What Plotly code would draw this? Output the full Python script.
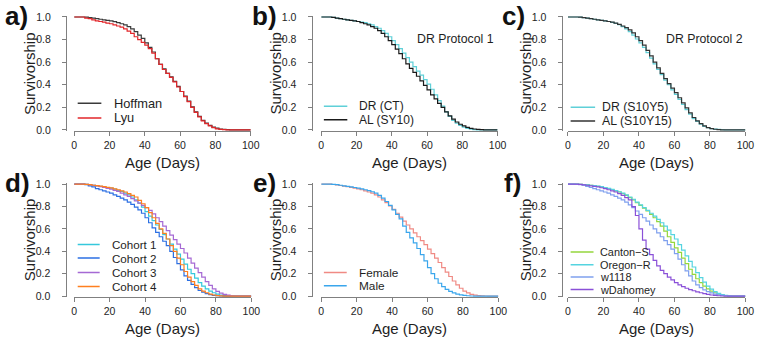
import plotly.graph_objects as go

# ---------------- data (survival proportion at each age, days) ----------------
DAYS = [0, 2, 4, 6, 8, 10, 12, 14, 16, 18, 20, 22, 24, 26, 28, 30, 32, 34, 36, 38,
        40, 42, 44, 46, 48, 50, 52, 54, 56, 58, 60, 62, 64, 66, 68, 70, 72, 74, 76, 78,
        80, 82, 84, 86, 88, 90, 92, 94, 96, 98, 100]
X_TICKS = [0, 20, 40, 60, 80, 100]
Y_TICKS = [0.0, 0.2, 0.4, 0.6, 0.8, 1.0]

# panel a
HOFFMAN = [1.0, 1.0, 1.0, 0.998, 0.995, 0.99, 0.985, 0.98, 0.975, 0.97, 0.965, 0.958, 0.95, 0.94, 0.93,
           0.915, 0.895, 0.87, 0.84, 0.81, 0.77, 0.73, 0.69, 0.63, 0.58, 0.54, 0.50, 0.47, 0.43, 0.385,
           0.34, 0.30, 0.255, 0.205, 0.16, 0.12, 0.085, 0.06, 0.04, 0.025, 0.015, 0.008, 0.004, 0.002,
           0.001, 0, 0, 0, 0, 0, 0]
LYU = [1.0, 1.0, 1.0, 0.99, 0.985, 0.975, 0.965, 0.96, 0.955, 0.945, 0.94, 0.93, 0.92, 0.91, 0.895,
       0.875, 0.855, 0.825, 0.80, 0.775, 0.75, 0.72, 0.68, 0.63, 0.58, 0.535, 0.50, 0.465, 0.425, 0.38,
       0.34, 0.295, 0.25, 0.20, 0.155, 0.115, 0.08, 0.055, 0.035, 0.02, 0.01, 0.005, 0.003, 0.001,
       0, 0, 0, 0, 0, 0, 0]
# panel b
DR_CT = [1.0, 1.0, 1.0, 0.997, 0.99, 0.985, 0.98, 0.975, 0.97, 0.965, 0.96, 0.955, 0.95, 0.94, 0.93,
         0.915, 0.90, 0.88, 0.855, 0.825, 0.79, 0.755, 0.72, 0.68, 0.64, 0.60, 0.56, 0.52, 0.485, 0.445,
         0.405, 0.36, 0.31, 0.26, 0.21, 0.16, 0.12, 0.085, 0.06, 0.04, 0.025, 0.014, 0.007, 0.003,
         0.001, 0, 0, 0, 0, 0, 0]
AL_SY10 = [1.0, 1.0, 1.0, 0.997, 0.99, 0.985, 0.98, 0.975, 0.97, 0.965, 0.96, 0.95, 0.94, 0.93, 0.915,
           0.90, 0.88, 0.855, 0.825, 0.79, 0.755, 0.715, 0.675, 0.63, 0.585, 0.545, 0.51, 0.475, 0.435,
           0.395, 0.355, 0.31, 0.275, 0.235, 0.20, 0.16, 0.125, 0.095, 0.07, 0.05, 0.035, 0.023, 0.014,
           0.008, 0.004, 0.002, 0, 0, 0, 0, 0]
# panel c
DR_S10Y5 = [1.0, 1.0, 1.0, 0.998, 0.995, 0.99, 0.985, 0.98, 0.975, 0.97, 0.965, 0.96, 0.953, 0.943,
            0.932, 0.915, 0.895, 0.87, 0.84, 0.805, 0.77, 0.73, 0.685, 0.635, 0.585, 0.535, 0.49, 0.44,
            0.40, 0.355, 0.315, 0.27, 0.225, 0.18, 0.14, 0.10, 0.075, 0.05, 0.032, 0.02, 0.012, 0.007,
            0.004, 0.002, 0.001, 0, 0, 0, 0, 0, 0]
AL_S10Y15 = [1.0, 1.0, 1.0, 0.998, 0.995, 0.99, 0.985, 0.98, 0.975, 0.97, 0.965, 0.96, 0.955, 0.945,
             0.935, 0.92, 0.905, 0.885, 0.86, 0.825, 0.79, 0.75, 0.705, 0.655, 0.60, 0.55, 0.50, 0.455,
             0.41, 0.37, 0.33, 0.285, 0.24, 0.195, 0.15, 0.11, 0.08, 0.055, 0.035, 0.02, 0.012, 0.006,
             0.003, 0.001, 0, 0, 0, 0, 0, 0, 0]
# panel d
COHORT1 = [1.0, 1.0, 1.0, 0.998, 0.995, 0.99, 0.985, 0.98, 0.975, 0.97, 0.965, 0.955, 0.945, 0.935,
           0.92, 0.905, 0.885, 0.86, 0.83, 0.795, 0.755, 0.715, 0.675, 0.635, 0.595, 0.55, 0.51, 0.465,
           0.42, 0.375, 0.33, 0.285, 0.24, 0.20, 0.16, 0.12, 0.09, 0.065, 0.045, 0.03, 0.018, 0.01,
           0.005, 0.002, 0, 0, 0, 0, 0, 0, 0]
COHORT2 = [1.0, 1.0, 1.0, 0.995, 0.985, 0.975, 0.96, 0.95, 0.94, 0.93, 0.92, 0.905, 0.89, 0.875, 0.86,
           0.84, 0.82, 0.795, 0.77, 0.74, 0.70, 0.655, 0.61, 0.57, 0.53, 0.49, 0.45, 0.40, 0.345, 0.29,
           0.235, 0.18, 0.14, 0.105, 0.075, 0.05, 0.035, 0.022, 0.013, 0.007, 0.003, 0.001, 0, 0, 0,
           0, 0, 0, 0, 0, 0]
COHORT3 = [1.0, 1.0, 1.0, 0.998, 0.995, 0.99, 0.985, 0.978, 0.97, 0.962, 0.955, 0.945, 0.935, 0.92,
           0.905, 0.89, 0.87, 0.85, 0.83, 0.81, 0.79, 0.765, 0.735, 0.70, 0.665, 0.625, 0.585, 0.545,
           0.505, 0.465, 0.425, 0.385, 0.34, 0.295, 0.25, 0.21, 0.17, 0.13, 0.095, 0.065, 0.042, 0.027,
           0.016, 0.008, 0.003, 0.001, 0, 0, 0, 0, 0]
COHORT4 = [1.0, 1.0, 1.0, 0.998, 0.995, 0.99, 0.987, 0.983, 0.978, 0.972, 0.966, 0.958, 0.95, 0.94,
           0.93, 0.915, 0.90, 0.885, 0.855, 0.825, 0.79, 0.745, 0.70, 0.65, 0.60, 0.56, 0.51, 0.45,
           0.40, 0.34, 0.28, 0.22, 0.17, 0.13, 0.095, 0.065, 0.045, 0.03, 0.018, 0.01, 0.005, 0.002,
           0, 0, 0, 0, 0, 0, 0, 0, 0]
# panel e
FEMALE = [1.0, 1.0, 1.0, 0.997, 0.993, 0.988, 0.983, 0.978, 0.972, 0.965, 0.958, 0.95, 0.94, 0.93,
          0.92, 0.905, 0.885, 0.86, 0.835, 0.805, 0.775, 0.74, 0.705, 0.67, 0.635, 0.60, 0.565, 0.53,
          0.495, 0.46, 0.42, 0.38, 0.34, 0.30, 0.255, 0.215, 0.175, 0.135, 0.10, 0.07, 0.045, 0.028,
          0.015, 0.008, 0.004, 0.002, 0.001, 0, 0, 0, 0]
MALE = [1.0, 1.0, 1.0, 0.998, 0.995, 0.99, 0.985, 0.98, 0.975, 0.97, 0.965, 0.958, 0.95, 0.942, 0.932,
        0.92, 0.90, 0.875, 0.845, 0.81, 0.77, 0.73, 0.69, 0.625, 0.57, 0.52, 0.475, 0.425, 0.37, 0.315,
        0.255, 0.20, 0.155, 0.115, 0.085, 0.06, 0.042, 0.028, 0.018, 0.011, 0.006, 0.003, 0.001, 0,
        0, 0, 0, 0, 0, 0, 0]
# panel f
CANTON_S = [1.0, 1.0, 1.0, 0.998, 0.996, 0.993, 0.99, 0.985, 0.98, 0.975, 0.968, 0.96, 0.95, 0.94,
            0.93, 0.915, 0.90, 0.88, 0.86, 0.835, 0.81, 0.785, 0.76, 0.73, 0.70, 0.665, 0.625, 0.58,
            0.53, 0.48, 0.43, 0.39, 0.34, 0.29, 0.24, 0.195, 0.155, 0.12, 0.09, 0.065, 0.045, 0.03,
            0.018, 0.01, 0.004, 0.001, 0, 0, 0, 0, 0]
OREGON_R = [1.0, 1.0, 1.0, 0.998, 0.996, 0.993, 0.99, 0.986, 0.982, 0.977, 0.97, 0.962, 0.953, 0.943,
            0.932, 0.92, 0.905, 0.885, 0.865, 0.84, 0.815, 0.79, 0.765, 0.74, 0.715, 0.685, 0.655,
            0.625, 0.59, 0.55, 0.51, 0.46, 0.41, 0.36, 0.31, 0.26, 0.21, 0.165, 0.125, 0.09, 0.062,
            0.04, 0.024, 0.013, 0.006, 0.002, 0, 0, 0, 0, 0]
W1118 = [1.0, 1.0, 0.998, 0.995, 0.99, 0.98, 0.97, 0.96, 0.95, 0.94, 0.93, 0.92, 0.905, 0.89, 0.875,
         0.86, 0.84, 0.815, 0.79, 0.76, 0.73, 0.70, 0.67, 0.635, 0.60, 0.565, 0.53, 0.495, 0.46, 0.42,
         0.38, 0.33, 0.28, 0.225, 0.18, 0.135, 0.10, 0.075, 0.055, 0.04, 0.028, 0.018, 0.011, 0.006,
         0.003, 0, 0, 0, 0, 0, 0]
WDAHOMEY = [1.0, 1.0, 1.0, 0.998, 0.994, 0.99, 0.985, 0.98, 0.975, 0.968, 0.96, 0.95, 0.94, 0.93,
            0.915, 0.90, 0.88, 0.86, 0.80, 0.72, 0.60, 0.50, 0.42, 0.37, 0.32, 0.27, 0.23, 0.20, 0.17,
            0.145, 0.12, 0.10, 0.085, 0.07, 0.058, 0.048, 0.038, 0.03, 0.022, 0.015, 0.01, 0.006, 0.003,
            0.001, 0, 0, 0, 0, 0, 0, 0]

# ---------------- layout helpers ----------------
W, H = 763, 341
FONT = "Liberation Sans, Arial, Helvetica, sans-serif"
AXIS_GREY = "#808080"
TEXT = "#1e1e1e"
PAD = 0.012  # y-range padding


def px_x(p):
    return p / W


def px_y(p):
    return 1 - p / H


panels = [
    dict(label="a)", lx=0, ly=-6, xpix=(72.3, 251.7), ypix=(12.3, 128.3), yline=64,
         series=[("Hoffman", HOFFMAN, "#3a3a3a"), ("Lyu", LYU, "#e2262a")],
         leg=dict(x0=2, x1=15.4, tx=21.5, ys=[0.235, 0.106], fs=12.8), note=None),
    dict(label="b)", lx=251, ly=-6, xpix=(323.3, 502.5), ypix=(12.3, 128.3), yline=313.5,
         series=[("DR (CT)", DR_CT, "#5fd0d8"), ("AL (SY10)", AL_SY10, "#1a1a1a")],
         leg=dict(x0=1.5, x1=14.8, tx=20.2, ys=[0.21, 0.09], fs=12), note=("DR Protocol 1", 76, 0.806)),
    dict(label="c)", lx=505, ly=-6, xpix=(574, 754.3), ypix=(12.3, 128.3), yline=567.5,
         series=[("DR (S10Y5)", DR_S10Y5, "#5fd0d8"), ("AL (S10Y15)", AL_S10Y15, "#333333")],
         leg=dict(x0=1.5, x1=15.3, tx=18.0, ys=[0.2, 0.08], fs=12.3), note=("DR Protocol 2", 76.7, 0.806)),
    dict(label="d)", lx=0, ly=165.5, xpix=(72.3, 252.3), ypix=(184, 299), yline=63.5,
         series=[("Cohort 1", COHORT1, "#35c8dc"), ("Cohort 2", COHORT2, "#2b6fe3"),
                 ("Cohort 3", COHORT3, "#a569d4"), ("Cohort 4", COHORT4, "#ff7f1f")],
         leg=dict(x0=2, x1=14.4, tx=20.3, ys=[0.46, 0.34, 0.21, 0.085], fs=11.6), note=None),
    dict(label="e)", lx=252, ly=165.5, xpix=(323.3, 503.3), ypix=(184, 299), yline=313.5,
         series=[("Female", FEMALE, "#f08a84"), ("Male", MALE, "#3aa6ec")],
         leg=dict(x0=1.5, x1=14.4, tx=20.2, ys=[0.21, 0.093], fs=11.8), note=None),
    dict(label="f)", lx=507, ly=165.5, xpix=(574, 754.3), ypix=(184, 299), yline=567.5,
         series=[("Canton\u2212S", CANTON_S, "#94d63c"), ("Oregon\u2212R", OREGON_R, "#55d4e0"),
                 ("w1118", W1118, "#7fa0ee"), ("wDahomey", WDAHOMEY, "#8a50d8")],
         leg=dict(x0=1.5, x1=14.4, tx=16.8, ys=[0.395, 0.28, 0.17, 0.058], fs=10.9), note=None),
]

fig = go.Figure()
annotations = []
shapes = []
layout = dict(
    width=W, height=H, margin=dict(l=0, r=0, t=0, b=0),
    paper_bgcolor="white", plot_bgcolor="white", showlegend=False,
    font=dict(family=FONT, color=TEXT),
)

for i, p in enumerate(panels, start=1):
    sfx = "" if i == 1 else str(i)
    xa, ya = "x" + sfx, "y" + sfx
    scale = (p["ypix"][1] - p["ypix"][0])
    top = p["ypix"][0] - PAD * scale
    bot = p["ypix"][1] + PAD * scale
    layout["xaxis" + sfx] = dict(
        domain=[px_x(p["xpix"][0]), px_x(p["xpix"][1])], range=[0, 100], anchor=ya,
        tickvals=X_TICKS, ticks="outside", ticklen=4, tickcolor=AXIS_GREY, tickwidth=1,
        showline=True, linecolor=AXIS_GREY, linewidth=1, showgrid=False, zeroline=False,
        tickfont=dict(size=10.5, color=TEXT), fixedrange=True,
    )
    layout["yaxis" + sfx] = dict(
        domain=[px_y(bot), px_y(top)], range=[-PAD, 1 + PAD], anchor="free",
        position=px_x(p["yline"]),
        tickvals=Y_TICKS, tickformat=".1f", ticks="outside", ticklen=4, tickcolor=AXIS_GREY,
        tickwidth=1, showline=True, linecolor=AXIS_GREY, linewidth=1, showgrid=False,
        zeroline=False, tickfont=dict(size=10.5, color=TEXT), ticklabelstandoff=9,
        fixedrange=True,
    )
    for name, vals, color in p["series"]:
        assert len(vals) == len(DAYS), name
        fig.add_trace(go.Scatter(x=DAYS, y=vals, mode="lines", line_shape="hv",
                                 line=dict(color=color, width=1.2), name=name,
                                 xaxis=xa, yaxis=ya, hoverinfo="skip"))
    # legend
    lg = p["leg"]
    for (name, vals, color), yy in zip(p["series"], lg["ys"]):
        shapes.append(dict(type="line", xref=xa, yref=ya, x0=lg["x0"], x1=lg["x1"], y0=yy, y1=yy,
                           line=dict(color=color, width=1.5)))
        annotations.append(dict(xref=xa, yref=ya, x=lg["tx"], y=yy, text=name, showarrow=False,
                                xanchor="left", yanchor="middle",
                                font=dict(size=lg["fs"], color=TEXT, family=FONT)))
    if p["note"]:
        t, nx, ny = p["note"]
        annotations.append(dict(xref=xa, yref=ya, x=nx, y=ny, text=t, showarrow=False,
                                xanchor="center", yanchor="middle",
                                font=dict(size=12.3, color=TEXT, family=FONT)))
    # axis titles
    xc = (p["xpix"][0] + p["xpix"][1]) / 2
    yc = (p["ypix"][0] + p["ypix"][1]) / 2
    annotations.append(dict(xref="paper", yref="paper", x=px_x(xc), y=px_y(p["ypix"][1] + 33),
                            text="Age (Days)", showarrow=False, xanchor="center", yanchor="middle",
                            font=dict(size=15, color=TEXT, family=FONT)))
    annotations.append(dict(xref="paper", yref="paper", x=px_x(p["yline"] - 37), y=px_y(yc),
                            text="Survivorship", showarrow=False, textangle=-90,
                            xanchor="center", yanchor="middle",
                            font=dict(size=15, color=TEXT, family=FONT)))
    # panel label
    annotations.append(dict(xref="paper", yref="paper", x=px_x(p["lx"]), y=px_y(p["ly"]),
                            text="<b>" + p["label"] + "</b>", showarrow=False,
                            xanchor="left", yanchor="top",
                            font=dict(size=26, color="#111111", family=FONT)))

layout["annotations"] = annotations
layout["shapes"] = shapes
fig.update_layout(**layout)
fig.write_html("out.html", config={"displayModeBar": False},
               post_script="document.body.style.margin='0';")
